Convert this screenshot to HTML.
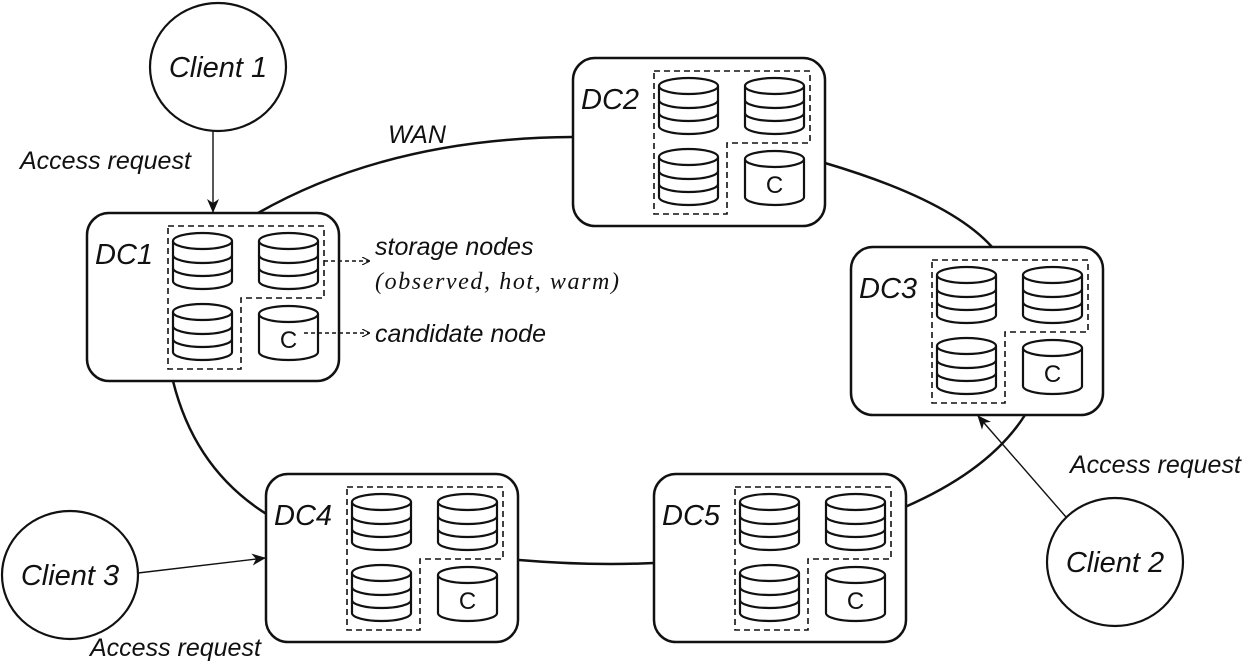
<!DOCTYPE html>
<html><head><meta charset="utf-8"><style>html,body{margin:0;padding:0;background:#fff}svg{display:block}</style></head>
<body>
<svg width="1250" height="662" viewBox="0 0 1250 662" xmlns="http://www.w3.org/2000/svg" font-family="Liberation Sans, sans-serif">
<defs>
<marker id="ah" markerWidth="14" markerHeight="12" refX="13" refY="6" orient="auto" markerUnits="userSpaceOnUse">
<path d="M0,0 L14,6 L0,12 L4,6 Z" fill="#111"/></marker>
<marker id="ah2" markerWidth="8" markerHeight="8" refX="7" refY="4" orient="auto" markerUnits="userSpaceOnUse">
<path d="M0,0 L8,4 L0,8" fill="none" stroke="#111" stroke-width="1.2"/></marker>
<g id="stk" fill="#fff" stroke="#111" stroke-width="2.2">
<path d="M0,8 L0,48 A29.5,8 0 0 0 59,48 L59,8"/>
<ellipse cx="29.5" cy="8" rx="29.5" ry="8"/>
<path d="M0,22 A29.5,8 0 0 0 59,22 M0,35 A29.5,8 0 0 0 59,35" fill="none"/>
</g>
<g id="cc" fill="#fff" stroke="#111" stroke-width="2.2">
<path d="M0,8 L0,46 A29.5,8 0 0 0 59,46 L59,8"/>
<ellipse cx="29.5" cy="8" rx="29.5" ry="8"/>
<text x="29.5" y="42" font-size="24" text-anchor="middle" fill="#111" stroke="none">C</text>
</g>
<g id="dc">
<rect x="0" y="0" width="252" height="168" rx="22" fill="#fff" stroke="#111" stroke-width="2.5"/>
<path d="M81,13 L237,13 L237,85 L154,85 L154,156 L81,156 Z" fill="none" stroke="#111" stroke-width="1.6" stroke-dasharray="6,4"/>
<use href="#stk" x="86" y="20"/>
<use href="#stk" x="172" y="20"/>
<use href="#stk" x="86" y="91"/>
<use href="#cc" x="172" y="93"/>
</g>
</defs>

<g fill="none" stroke="#111" stroke-width="2.5">
<path d="M258,213 Q390,138 573,137"/>
<path d="M825,163 Q950,200 992,247"/>
<path d="M1025,415 Q990,470 905,507"/>
<path d="M654,563 Q590,566 519,560"/>
<path d="M173,381 Q195,470 268,515"/>
</g>

<use href="#dc" x="87" y="213"/>
<use href="#dc" x="573" y="58"/>
<use href="#dc" x="851" y="247"/>
<use href="#dc" x="266" y="474"/>
<use href="#dc" x="654" y="474"/>
<g font-size="29" font-style="italic" fill="#111">
<text x="95" y="264">DC1</text>
<text x="581" y="109">DC2</text>
<text x="859" y="298">DC3</text>
<text x="274" y="525">DC4</text>
<text x="662" y="525">DC5</text>
</g>

<g fill="#fff" stroke="#111" stroke-width="2.2">
<ellipse cx="218" cy="67" rx="68" ry="64"/>
<ellipse cx="1115" cy="562" rx="68" ry="64"/>
<ellipse cx="70" cy="575" rx="68" ry="64"/>
</g>
<g font-size="29" font-style="italic" fill="#111" text-anchor="middle">
<text x="218" y="77">Client 1</text>
<text x="1115" y="572">Client 2</text>
<text x="70" y="585">Client 3</text>
</g>

<g stroke="#111" stroke-width="1.4" fill="none">
<line x1="213" y1="131" x2="213" y2="212" marker-end="url(#ah)"/>
<line x1="1066" y1="517" x2="978" y2="416" marker-end="url(#ah)"/>
<line x1="138" y1="573" x2="265" y2="558" marker-end="url(#ah)"/>
</g>
<g font-size="25" font-style="italic" fill="#111">
<text x="20" y="169">Access request</text>
<text x="1070" y="473">Access request</text>
<text x="90" y="656">Access request</text>
<text x="388" y="143">WAN</text>
<text x="375" y="255">storage nodes</text>
<text x="375" y="342">candidate node</text>
<text x="375" y="289" font-family="Liberation Serif, serif" font-size="24" letter-spacing="1.6">(observed, hot, warm)</text>
</g>
<g stroke="#111" stroke-width="1.4" stroke-dasharray="4,3" fill="none">
<line x1="324" y1="261" x2="369" y2="261" marker-end="url(#ah2)"/>
<line x1="304" y1="333" x2="369" y2="333" marker-end="url(#ah2)"/>
</g>
</svg>
</body></html>
